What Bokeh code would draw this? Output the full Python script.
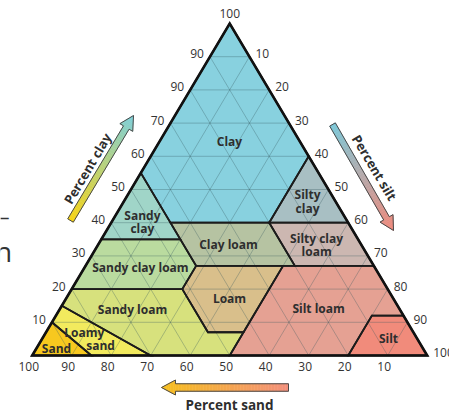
import numpy as np
from bokeh.plotting import figure
from bokeh.models import Range1d
from bokeh.embed import file_html
from bokeh.resources import INLINE
from bokeh.core.properties import value

# ---------------- data ----------------
# USDA soil texture classes: vertices as (sand, silt, clay) percentages
class_names = ["Clay", "Silty clay", "Sandy clay", "Clay loam", "Silty clay loam",
               "Sandy clay loam", "Loam", "Silt loam", "Silt", "Sandy loam",
               "Loamy sand", "Sand"]
class_sand = [[0, 0, 20, 45, 45], [0, 0, 20], [45, 65, 45], [45, 20, 20, 45],
              [20, 0, 0, 20], [65, 45, 45, 52, 80], [45, 23, 43, 52, 52],
              [23, 0, 0, 8, 20, 50, 43], [0, 0, 20, 8],
              [80, 52, 52, 43, 50, 70, 85], [85, 70, 85, 90], [90, 85, 100]]
class_silt = [[0, 40, 40, 15, 0], [40, 60, 40], [0, 0, 20], [15, 40, 53, 28],
              [40, 60, 73, 53], [0, 20, 28, 28, 0], [28, 50, 50, 41, 28],
              [50, 73, 88, 80, 80, 50, 50], [88, 100, 80, 80],
              [0, 28, 41, 50, 50, 30, 0], [0, 30, 15, 0], [0, 15, 0]]
class_clay = [[100, 60, 40, 40, 55], [60, 40, 40], [55, 35, 35], [40, 40, 27, 27],
              [40, 40, 27, 27], [35, 35, 27, 20, 20], [27, 27, 7, 7, 20],
              [27, 27, 12, 12, 0, 0, 7], [12, 0, 0, 12],
              [20, 20, 7, 7, 0, 0, 15], [15, 0, 0, 10], [10, 0, 0]]
class_colors = ["#88d1df", "#a8bfc3", "#a0d5c8", "#b6c3a2", "#ccb7b1",
                "#badb9f", "#d9bf8b", "#e5a193", "#f18b7b", "#d7e17d",
                "#f2ea5e", "#f7c81f"]

# class label lines: text, x (silt + clay/2), y (clay)
label_text = ["Clay", "Silty", "clay", "Sandy", "clay", "Clay loam", "Silty clay",
              "loam", "Sandy clay loam", "Loam", "Silt loam", "Sandy loam", "Silt",
              "Loamy", "sand", "Sand"]
label_x = [49.95, 69.7, 69.7, 27.9, 27.9, 49.7, 72.0, 72.0, 27.4, 49.95, 72.5,
           25.4, 90.2, 13.2, 17.3, 6.15]
label_y = [64.5, 48.5, 44.3, 42.2, 38.3, 33.4, 35.2, 31.3, 26.5, 17.2, 14.2,
           13.9, 5.1, 6.9, 3.0, 2.1]

# tick labels (as printed on the chart)
clay_ticks = [10, 20, 30, 40, 50, 60, 70, 80, 90]
clay_tick_labels = ["10", "20", "30", "40", "50", "60", "70", "90", "90"]
silt_ticks = [10, 20, 30, 40, 50, 60, 70, 80, 90, 100]
silt_tick_labels = ["10", "20", "30", "40", "50", "60", "70", "80", "90", "100"]
sand_ticks = [100, 90, 80, 70, 60, 50, 40, 30, 20, 10]
sand_tick_labels = ["100", "90", "80", "70", "60", "50", "40", "30", "20", "10"]
apex_label = "100"

# ---------------- geometry ----------------
W, H = 449, 413
OFF = 0
X0, SX = 31.7, 3.95     # pixel of x=0 and px per unit
Y0, SY = 355.0, 3.32    # pixel of y=0 and px per unit


def tern(sand, silt, clay):
    s = np.asarray(silt, float)
    c = np.asarray(clay, float)
    return s + c / 2.0, c


def px2d(px, py):
    return (np.asarray(px) - X0) / SX, (Y0 - np.asarray(py)) / SY


def d2px(x, y):
    return X0 + np.asarray(x) * SX, Y0 - np.asarray(y) * SY


p = figure(width=W, height=H, output_backend="svg", toolbar_location=None,
           x_axis_type=None, y_axis_type=None,
           x_range=Range1d((OFF - X0) / SX, (OFF + W - X0) / SX),
           y_range=Range1d((Y0 - (OFF + H)) / SY, (Y0 - OFF) / SY),
           min_border=0, min_border_left=0, min_border_right=0,
           min_border_top=0, min_border_bottom=0)
p.outline_line_color = None
p.background_fill_color = "white"
p.border_fill_color = "white"

xs, ys = [], []
for sa, si, cl in zip(class_sand, class_silt, class_clay):
    x, y = tern(sa, si, cl)
    xs.append(list(x))
    ys.append(list(y))

# fills
p.patches(xs, ys, fill_color=class_colors, line_color=None)

# grid lines every 10 %
gx, gy = [], []
for k in range(10, 100, 10):
    # constant clay
    gx.append([k / 2, 100 - k / 2]); gy.append([k, k])
    # constant silt
    gx.append([k, k + (100 - k) / 2]); gy.append([0, 100 - k])
    # constant sand
    gx.append([100 - k, (100 - k) / 2]); gy.append([0, 100 - k])
p.multi_line(gx, gy, line_color="#35565c", line_alpha=0.32, line_width=1)

# class borders
p.patches(xs, ys, fill_color=None, line_color="#1c1c1c", line_width=1.8,
          line_join="miter")
# triangle outline
p.patch([0, 50, 100], [0, 100, 0], fill_color=None, line_color="#111111",
        line_width=2.6, line_join="miter")

font = value("Open Sans")
# class labels
p.text(label_x, label_y, text=label_text, text_font=font, text_font_style="bold",
       text_font_size="12px", text_align="center", text_baseline="middle",
       text_color="#2e2e2e")

# ticks
tx = [c / 2 for c in clay_ticks]
p.text(tx, clay_ticks, text=clay_tick_labels, text_font=font, text_font_size="12px",
       text_align="right", text_baseline="middle", x_offset=-6, y_offset=-3,
       text_color="#333333")
sx_ = [50 + s / 2 for s in silt_ticks]
sy_ = [100 - s for s in silt_ticks]
p.text(sx_, sy_, text=silt_tick_labels, text_font=font, text_font_size="12px",
       text_align="left", text_baseline="middle", x_offset=6, y_offset=-3,
       text_color="#333333")
bx = [100 - s for s in sand_ticks]
p.text(bx, [0] * len(bx), text=sand_tick_labels, text_font=font, text_font_size="12px",
       text_align="center", text_baseline="middle", x_offset=-3.5, y_offset=11,
       text_color="#333333")
p.text([50], [100], text=[apex_label], text_font=font, text_font_size="12px",
       text_align="center", text_baseline="middle", y_offset=-10,
       text_color="#333333")


# gradient arrows
def hex2rgb(h):
    h = h.lstrip("#")
    return np.array([int(h[i:i + 2], 16) for i in (0, 2, 4)], float)


def rgb2hex(c):
    return "#%02x%02x%02x" % tuple(int(round(v)) for v in c)


def arrow(d0, d1, c0, c1, shaft_w=6.5, head_w=15, head_len=14, n=40):
    p0 = np.array(d2px(*d0), float)
    p1 = np.array(d2px(*d1), float)
    L = np.linalg.norm(p1 - p0)
    u = (p1 - p0) / L
    v = np.array([-u[1], u[0]])
    pb = p1 - head_len * u
    h = shaft_w / 2
    ca, cb = hex2rgb(c0), hex2rgb(c1)
    sxs, sys_, cols = [], [], []
    Ls = L - head_len
    for i in range(n):
        a = p0 + u * Ls * i / n
        b = p0 + u * Ls * (i + 1) / n
        pts = [a + h * v, b + h * v, b - h * v, a - h * v]
        dx, dy = px2d([q[0] for q in pts], [q[1] for q in pts])
        sxs.append(list(dx)); sys_.append(list(dy))
        t = (i + 0.5) / n * Ls / L
        cols.append(rgb2hex(ca + (cb - ca) * t))
    m = 8
    for j in range(m):
        a = pb + u * head_len * j / m
        b = pb + u * head_len * (j + 1) / m
        wa = head_w / 2 * (1 - j / m)
        wb = head_w / 2 * (1 - (j + 1) / m)
        pts = [a + wa * v, b + wb * v, b - wb * v, a - wa * v]
        dx, dy = px2d([q[0] for q in pts], [q[1] for q in pts])
        sxs.append(list(dx)); sys_.append(list(dy))
        t = (Ls + head_len * (j + 0.5) / m) / L
        cols.append(rgb2hex(ca + (cb - ca) * t))
    p.patches(sxs, sys_, fill_color=cols, line_color=cols, line_width=0.6)
    H2 = head_w / 2
    outline = [p0 + h * v, pb + h * v, pb + H2 * v, p1, pb - H2 * v, pb - h * v,
               p0 - h * v]
    ox, oy = px2d([q[0] for q in outline], [q[1] for q in outline])
    p.patch(list(ox), list(oy), fill_color=None, line_color="#4a4a4a",
            line_width=1, line_join="miter")


arrow((9.70, 40.66), (25.65, 72.29), "#f7d414", "#7dcfd9")
arrow((76.03, 69.58), (91.47, 37.65), "#7cc8d8", "#f0887a")
arrow((64.89, -9.64), (32.73, -9.64), "#f4907e", "#f6bf1e", shaft_w=7.5)

ang = np.arctan2(SY * 100, SX * 50)
p.text([14.0], [56.3], text=["Percent clay"], text_font=font, text_font_style="bold",
       text_font_size="13px", text_align="center", text_baseline="middle",
       angle=ang, text_color="#2e2e2e")
p.text([86.66], [56.6], text=["Percent silt"], text_font=font, text_font_style="bold",
       text_font_size="13px", text_align="center", text_baseline="middle",
       angle=-ang, text_color="#2e2e2e")
p.text([49.95], [-15.06], text=["Percent sand"], text_font=font, text_font_style="bold",
       text_font_size="13.5px", text_align="center", text_baseline="middle",
       text_color="#2e2e2e")

# stray fragments of neighbouring text at the left edge
p.text(px2d([4], [216])[0], px2d([4], [216])[1], text=["–"], text_font=font,
       text_font_size="20px", text_align="center", text_baseline="middle",
       text_color="#333333")
p.text(px2d([3], [250])[0], px2d([3], [250])[1], text=["n"], text_font=font,
       text_font_size="28px", text_align="center", text_baseline="middle",
       text_color="#333333")

open("out.html", "w").write(file_html(p, INLINE))
